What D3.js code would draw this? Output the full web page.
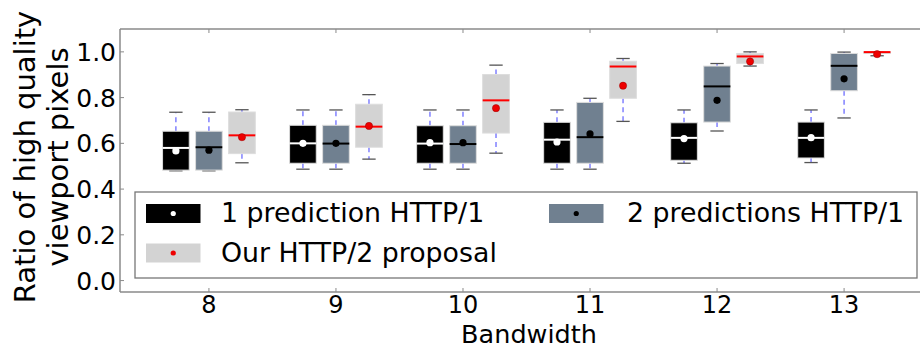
<!DOCTYPE html>
<html>
<head>
<meta charset="utf-8">
<script src="https://cdn.jsdelivr.net/npm/d3@7"></script>
<style>
  html, body { margin: 0; padding: 0; background: #fff; }
  svg { display: block; font-family: "DejaVu Sans", sans-serif; }
</style>
</head>
<body>
<svg id="chart" width="920" height="349"></svg>
<script>
// ---- data ----
const bandwidths = [8, 9, 10, 11, 12, 13];
const yTicks = [0.0, 0.2, 0.4, 0.6, 0.8, 1.0];
const seriesNames = ["1 prediction HTTP/1", "2 predictions HTTP/1", "Our HTTP/2 proposal"];
// each entry: [whiskerLow, q1, median, q3, whiskerHigh, mean]
const pred1 = [
  [0.480, 0.483, 0.580, 0.653, 0.736, 0.567],
  [0.487, 0.513, 0.600, 0.679, 0.746, 0.600],
  [0.487, 0.513, 0.599, 0.677, 0.746, 0.603],
  [0.487, 0.513, 0.616, 0.692, 0.746, 0.606],
  [0.513, 0.526, 0.624, 0.690, 0.746, 0.621],
  [0.516, 0.536, 0.624, 0.693, 0.746, 0.625]
];
const pred2 = [
  [0.480, 0.483, 0.583, 0.653, 0.736, 0.570],
  [0.487, 0.513, 0.599, 0.679, 0.746, 0.600],
  [0.487, 0.513, 0.597, 0.677, 0.746, 0.603],
  [0.487, 0.513, 0.627, 0.779, 0.797, 0.641],
  [0.654, 0.693, 0.849, 0.938, 0.949, 0.788],
  [0.711, 0.830, 0.939, 0.993, 0.999, 0.882]
];
const http2 = [
  [0.515, 0.555, 0.635, 0.737, 0.747, 0.627],
  [0.531, 0.583, 0.673, 0.771, 0.813, 0.676],
  [0.557, 0.645, 0.788, 0.901, 0.942, 0.754],
  [0.696, 0.797, 0.936, 0.959, 0.971, 0.852],
  [0.938, 0.949, 0.980, 0.993, 1.000, 0.958],
  [0.983, 0.993, 0.999, 1.000, 1.000, 0.990]
];

// ---- styles ----
const styles = [
  { data: pred1, offset: -0.26, fill: "#000000", median: "#ffffff", mean: "#ffffff" },
  { data: pred2, offset: 0.0, fill: "#708090", median: "#000000", mean: "#000000" },
  { data: http2, offset: 0.26, fill: "#d3d3d3", median: "#ff0000", mean: "#ee0000" }
];

const svg = d3.select("#chart");
const pLeft = 120, pTop = 29, pBottom = 292, pRight = 933;
const x = d3.scaleLinear().domain([7.3, 13.7]).range([pLeft, pRight]);
const y = d3.scaleLinear().domain([-0.05, 1.1]).range([pBottom, pTop]);
const boxW = 0.21;
const bw = x(boxW) - x(0);
const spine = "#8a8a8a";
const whiskerColor = "rgba(20,20,255,0.62)";

// ---- boxes ----
styles.forEach(s => {
  const g = svg.append("g");
  s.data.forEach((d, i) => {
    const cx = x(bandwidths[i] + s.offset);
    const [lo, q1, med, q3, hi, mean] = d;
    // whiskers
    g.append("line").attr("x1", cx).attr("x2", cx).attr("y1", y(q3)).attr("y2", y(hi))
      .attr("stroke", whiskerColor).attr("stroke-width", 1.3).attr("stroke-dasharray", "5,4");
    g.append("line").attr("x1", cx).attr("x2", cx).attr("y1", y(q1)).attr("y2", y(lo))
      .attr("stroke", whiskerColor).attr("stroke-width", 1.3).attr("stroke-dasharray", "5,4");
    // caps
    [lo, hi].forEach(v => {
      g.append("line").attr("x1", cx - bw / 4).attr("x2", cx + bw / 4)
        .attr("y1", y(v)).attr("y2", y(v)).attr("stroke", "#555").attr("stroke-width", 1.3);
    });
    // box
    g.append("rect").attr("x", cx - bw / 2).attr("width", bw)
      .attr("y", y(q3)).attr("height", Math.max(0.5, y(q1) - y(q3)))
      .attr("fill", s.fill).attr("stroke", "#dddddd").attr("stroke-width", 1);
    // median
    g.append("line").attr("x1", cx - bw / 2).attr("x2", cx + bw / 2)
      .attr("y1", y(med)).attr("y2", y(med)).attr("stroke", s.median).attr("stroke-width", 2);
    // mean
    g.append("circle").attr("cx", cx).attr("cy", y(mean)).attr("r", 3.6)
      .attr("fill", s.mean).attr("stroke", s.mean === "#ee0000" ? "#990000" : "none").attr("stroke-width", 0.5);
  });
});

// ---- spines & ticks ----
const ax = svg.append("g");
ax.append("line").attr("x1", pLeft).attr("x2", 920).attr("y1", pTop).attr("y2", pTop).attr("stroke", spine).attr("stroke-width", 1.5);
ax.append("line").attr("x1", pLeft).attr("x2", 920).attr("y1", pBottom).attr("y2", pBottom).attr("stroke", spine).attr("stroke-width", 1.5);
ax.append("line").attr("x1", pLeft).attr("x2", pLeft).attr("y1", pTop).attr("y2", pBottom).attr("stroke", spine).attr("stroke-width", 1.5);

bandwidths.forEach(b => {
  const px = x(b);
  ax.append("line").attr("x1", px).attr("x2", px).attr("y1", pTop).attr("y2", pTop + 4).attr("stroke", spine).attr("stroke-width", 1);
  ax.append("line").attr("x1", px).attr("x2", px).attr("y1", pBottom).attr("y2", pBottom - 4).attr("stroke", spine).attr("stroke-width", 1);
  ax.append("text").attr("x", px).attr("y", 312.5).attr("text-anchor", "middle")
    .attr("font-size", 24).attr("fill", "#000").text(b);
});
yTicks.forEach(t => {
  const py = y(t);
  ax.append("line").attr("x1", pLeft).attr("x2", pLeft + 4).attr("y1", py).attr("y2", py).attr("stroke", spine).attr("stroke-width", 1);
  ax.append("text").attr("x", 116).attr("y", py + 9).attr("text-anchor", "end")
    .attr("font-size", 25).attr("fill", "#000").text(t.toFixed(1));
});

// axis labels
svg.append("text").attr("x", 529).attr("y", 342.5).attr("text-anchor", "middle")
  .attr("font-size", 25.5).attr("fill", "#000").text("Bandwidth");
const yl = svg.append("text").attr("transform", "translate(35,157) rotate(-90)")
  .attr("text-anchor", "middle").attr("font-size", 29).attr("fill", "#000");
yl.append("tspan").attr("x", 0).attr("y", 0).text("Ratio of high quality");
yl.append("tspan").attr("x", 0).attr("y", 33).text("viewport pixels");

// ---- legend ----
const lg = svg.append("g");
lg.append("rect").attr("x", 135).attr("y", 192).attr("width", 782).attr("height", 86)
  .attr("fill", "#fff").attr("stroke", "#777").attr("stroke-width", 1.3);
const legendPos = [
  { px: 146, tx: 221, py: 204, ty: 221.7 },
  { px: 549, tx: 627, py: 204, ty: 221.7 },
  { px: 146, tx: 221, py: 243.5, ty: 261.7 }
];
styles.forEach((s, i) => {
  const p = legendPos[i];
  lg.append("rect").attr("x", p.px).attr("y", p.py).attr("width", 54.5).attr("height", 19)
    .attr("fill", s.fill);
  lg.append("circle").attr("cx", p.px + 27.25).attr("cy", p.py + 9.5).attr("r", 2.6).attr("fill", s.mean);
  lg.append("text").attr("x", p.tx).attr("y", p.ty).attr("font-size", 26.8).attr("fill", "#000").text(seriesNames[i]);
});
</script>
</body>
</html>
